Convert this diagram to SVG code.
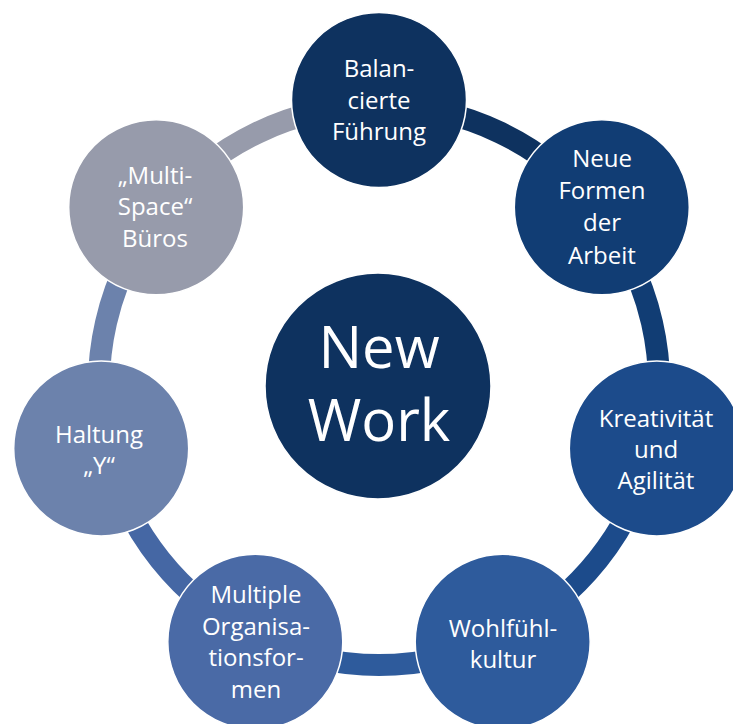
<svg xmlns="http://www.w3.org/2000/svg" width="733" height="724" viewBox="0 0 733 724">
<style>
.seg{fill:none;stroke-width:22}
.node{stroke:#ffffff;stroke-width:1.5}
.lbl{font-family:"Open Sans","DejaVu Sans",sans-serif;font-size:24px;fill:#ffffff;text-anchor:middle}
.big{font-family:"Open Sans","DejaVu Sans",sans-serif;font-size:58px;fill:#ffffff;text-anchor:middle}
</style>
<rect width="733" height="724" fill="#ffffff"/>
<g id="connectors">
<path class="seg" stroke="#0e325f" d="M379,105 A280,280 0 0 1 597.9,210.4"/>
<path class="seg" stroke="#113d74" d="M597.9,210.4 A280,280 0 0 1 652,447.3"/>
<path class="seg" stroke="#1c4b8b" d="M652,447.3 A280,280 0 0 1 500.5,637.3"/>
<path class="seg" stroke="#2e5b9c" d="M500.5,637.3 A280,280 0 0 1 257.5,637.3"/>
<path class="seg" stroke="#4567a4" d="M257.5,637.3 A280,280 0 0 1 106,447.3"/>
<path class="seg" stroke="#6c82ac" d="M106,447.3 A280,280 0 0 1 160.1,210.4"/>
<path class="seg" stroke="#979bab" d="M160.1,210.4 A280,280 0 0 1 379,105"/>
</g>
<g id="center">
<circle class="node" cx="378" cy="386" r="113" fill="#0e325f"/>
<text class="big" x="379" y="368">New</text>
<text class="big" x="379" y="441">Work</text>
</g>
<g id="n1">
<circle class="node" cx="379" cy="100" r="87.5" fill="#0e325f"/>
<text class="lbl" x="379" y="77">Balan-</text>
<text class="lbl" x="379" y="109">cierte</text>
<text class="lbl" x="379" y="140">Führung</text>
</g>
<g id="n2">
<circle class="node" cx="601.8" cy="207.3" r="87.5" fill="#113d74"/>
<text class="lbl" x="602" y="167">Neue</text>
<text class="lbl" x="602" y="199">Formen</text>
<text class="lbl" x="602" y="231">der</text>
<text class="lbl" x="602" y="264">Arbeit</text>
</g>
<g id="n3">
<circle class="node" cx="656.8" cy="448.4" r="87.5" fill="#1c4b8b"/>
<text class="lbl" x="656" y="427">Kreativität</text>
<text class="lbl" x="656" y="458">und</text>
<text class="lbl" x="656" y="489">Agilität</text>
</g>
<g id="n4">
<circle class="node" cx="502.7" cy="641.8" r="87.5" fill="#2e5b9c"/>
<text class="lbl" x="503" y="637">Wohlfühl-</text>
<text class="lbl" x="503" y="668">kultur</text>
</g>
<g id="n5">
<circle class="node" cx="255.3" cy="641.8" r="87.5" fill="#4a6aa6"/>
<text class="lbl" x="256" y="603">Multiple</text>
<text class="lbl" x="256" y="635">Organisa-</text>
<text class="lbl" x="256" y="666">tionsfor-</text>
<text class="lbl" x="256" y="698">men</text>
</g>
<g id="n6">
<circle class="node" cx="101.2" cy="448.4" r="87.5" fill="#6c82ac"/>
<text class="lbl" x="99" y="443">Haltung</text>
<text class="lbl" x="99" y="474">„Y“</text>
</g>
<g id="n7">
<circle class="node" cx="156.2" cy="207.3" r="87.5" fill="#979bab"/>
<text class="lbl" x="155" y="184">„Multi-</text>
<text class="lbl" x="155" y="215">Space“</text>
<text class="lbl" x="155" y="247">Büros</text>
</g>
</svg>
